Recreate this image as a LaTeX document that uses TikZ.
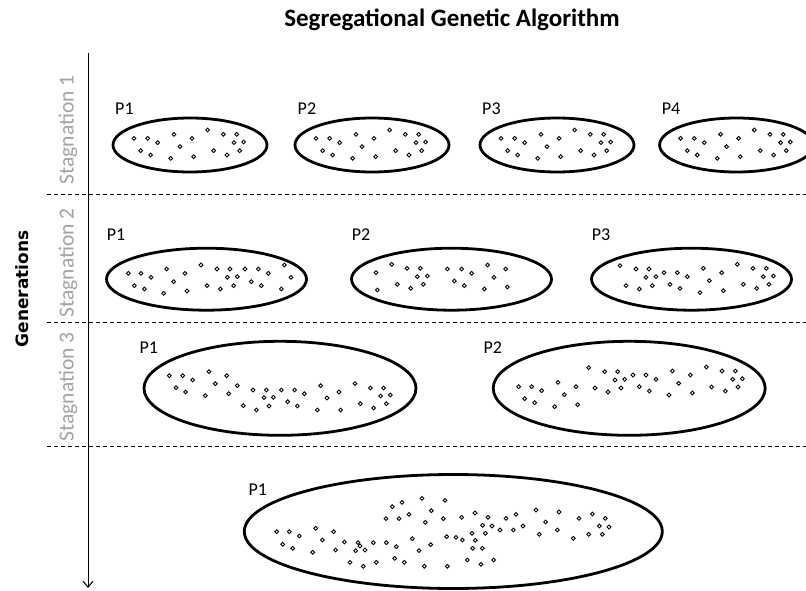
\documentclass[tikz,border=0pt]{standalone}
\usepackage{fontspec}
\setmainfont{Carlito}
\newfontfamily\gensans{DejaVu Sans}
\usetikzlibrary{shapes.geometric,arrows.meta}
\newcommand{\popdots}[3]{\edef\mypoplist{#3}\foreach \px/\py in \mypoplist {\draw[dotst] ({#1+\px/3},{#2+\py/3}) circle[radius=1.9pt];}}
\newcommand{\dotsA}{102/130,143/130,173/143,222/118,276/130,323/105,370/118,410/118,402/143,431/141,122/167,152/180,240/155,212/190,281/185,341/167,381/180,419/167}
\begin{document}
\begin{tikzpicture}[x=1pt,y=-1pt,
 pop/.style={draw, ellipse, line width=2.8pt, inner sep=0pt},
 dotst/.style={line width=0.9pt},
 plabel/.style={anchor=base west, inner sep=0pt, font=\fontsize{18}{18}\selectfont},
 stag/.style={rotate=90, text=black!36, font=\fontsize{21.5}{21.5}\selectfont, inner sep=0pt},
 sep/.style={line width=1pt, dash pattern=on 4pt off 3pt},
 axis/.style={line width=1pt, -{Straight Barb[length=6pt,width=10pt]}}
]
\fill[white] (0,0) rectangle (806,591);
\useasboundingbox (0,0) rectangle (806,591);

% title and axis labels
\node[font=\bfseries\fontsize{25}{25}\selectfont] (title) at (452,20) {Segregational Genetic Algorithm};
\node[rotate=90, font=\gensans\bfseries\fontsize{17}{17}\selectfont] (gen) at (22,289) {Generations};
\node[stag] (st1) at (68,130) {Stagnation 1};
\node[stag] (st2) at (68,263) {Stagnation 2};
\node[stag] (st3) at (68,387) {Stagnation 3};

% axis
\coordinate (axtop) at (88,53);
\coordinate (axbot) at (88,588);
\draw[axis] (axtop) -- (axbot);

% separators
\coordinate (d1a) at (47,194); \coordinate (d1b) at (806,194);
\coordinate (d2a) at (47,322); \coordinate (d2b) at (806,322);
\coordinate (d3a) at (47,446); \coordinate (d3b) at (806,446);
\draw[sep] (d1a) -- (d1b);
\draw[sep] (d2a) -- (d2b);
\draw[sep] (d3a) -- (d3b);

% stage 1
\node[pop, minimum width=154pt, minimum height=54pt] (s1p1) at (190,145) {};
\node[pop, minimum width=154pt, minimum height=54pt] (s1p2) at (372,145) {};
\node[pop, minimum width=154pt, minimum height=54pt] (s1p3) at (557,145) {};
\node[pop, minimum width=154pt, minimum height=54pt] (s1p4) at (736.6,145) {};
\node[plabel] (l1p1) at (115,114.3) {P1};
\node[plabel] (l1p2) at (297.5,114.3) {P2};
\node[plabel] (l1p3) at (482,114.3) {P3};
\node[plabel] (l1p4) at (661.7,114.3) {P4};
\popdots{100}{95}{\dotsA}
\popdots{282}{95}{\dotsA}
\popdots{467}{95}{\dotsA}
\popdots{646.6}{95}{\dotsA}

% stage 2
\node[pop, minimum width=200pt, minimum height=62pt] (s2p1) at (206.5,279.2) {};
\node[pop, minimum width=200pt, minimum height=62pt] (s2p2) at (451.5,279.2) {};
\node[pop, minimum width=200pt, minimum height=62pt] (s2p3) at (691.5,279.2) {};
\node[plabel] (l2p1) at (106.7,240.5) {P1};
\node[plabel] (l2p2) at (351.7,240.5) {P2};
\node[plabel] (l2p3) at (591.7,240.5) {P3};
\popdots{95}{225}{100/145,138/145,168/157,215/132,270/145,318/120,366/132,405/132,450/132,490/132,520/145,568/120,397/157,427/155,588/157,118/182,148/192,206/205,236/170,276/198,336/182,376/192,416/182,469/170,499/182,559/192}
\popdots{340}{225}{108/143,155/118,201/130,241/130,232/155,262/153,322/132,365/132,395/145,443/120,497/132,462/157,112/195,172/178,212/190,250/178,343/168,373/182,433/192,502/186}
\popdots{580}{225}{120/122,168/132,207/132,198/157,228/155,252/143,292/143,322/155,370/130,425/143,472/118,519/130,559/130,550/155,580/153,138/182,178/192,217/182,270/178,300/190,360/203,388/167,430/197,490/178,530/190,567/178}

% stage 3
\node[pop, minimum width=272pt, minimum height=94pt] (s3p1) at (280,388.3) {};
\node[pop, minimum width=272pt, minimum height=94pt] (s3p2) at (629.2,388.3) {};
\node[plabel] (l3p1) at (139.3,353.3) {P1};
\node[plabel] (l3p2) at (483.3,353.3) {P2};
\popdots{130}{330}{118/137,158/137,188/150,237/125,290/137,138/173,167/186,256/161,226/197,296/191,322/167,369/180,409/180,454/180,494/180,523/191,402/203,430/202,473/215,340/227,379/240,417/228,502/228,572/167,591/204,627/186,562/240,632/240,675/161,721/174,761/174,752/198,781/195,691/221,731/234,769/221}
\popdots{480}{330}{116/170,155/170,185/182,234/157,288/170,134/206,164/218,253/194,224/230,293/224,326/113,374/125,413/125,405/150,434/148,459/135,498/135,528/148,345/174,384/186,423/174,478/170,508/183,577/123,631/135,596/160,567/195,637/189,679/111,726/123,766/123,758/148,787/146,695/171,736/183,774/171}

% stage 4
\node[pop, minimum width=418pt, minimum height=114pt] (s4p1) at (453.3,531.5) {};
\node[plabel] (l4p1) at (248.3,495) {P1};
\popdots{200}{440}{230/275,268/275,298/288,347/265,401/275,248/313,278/325,367/300,338/337,407/330,433/306,474/308,480/318,467/332,495/330,520/308,559/308,589/320,450/367,490/379,529/367,584/355,613/367,673/379,742/379,637/296,657/332,692/314,577/200,606/187,666/175,735/181,558/236,597/236,627/223,676/247,694/212,730/236,740/290,768/292,787/300,825/219,864/232,785/232,816/280,826/301,848/256,856/280,876/258,900/270,918/235,948/223,940/270,969/258,818/325,847/325,802/360,843/373,881/360,1008/210,1037/246,1077/216,1018/283,1072/270,1137/235,1177/222,1216/235,1198/258,1227/261,1120/295,1166/283,1207/283}
\end{tikzpicture}
\end{document}
